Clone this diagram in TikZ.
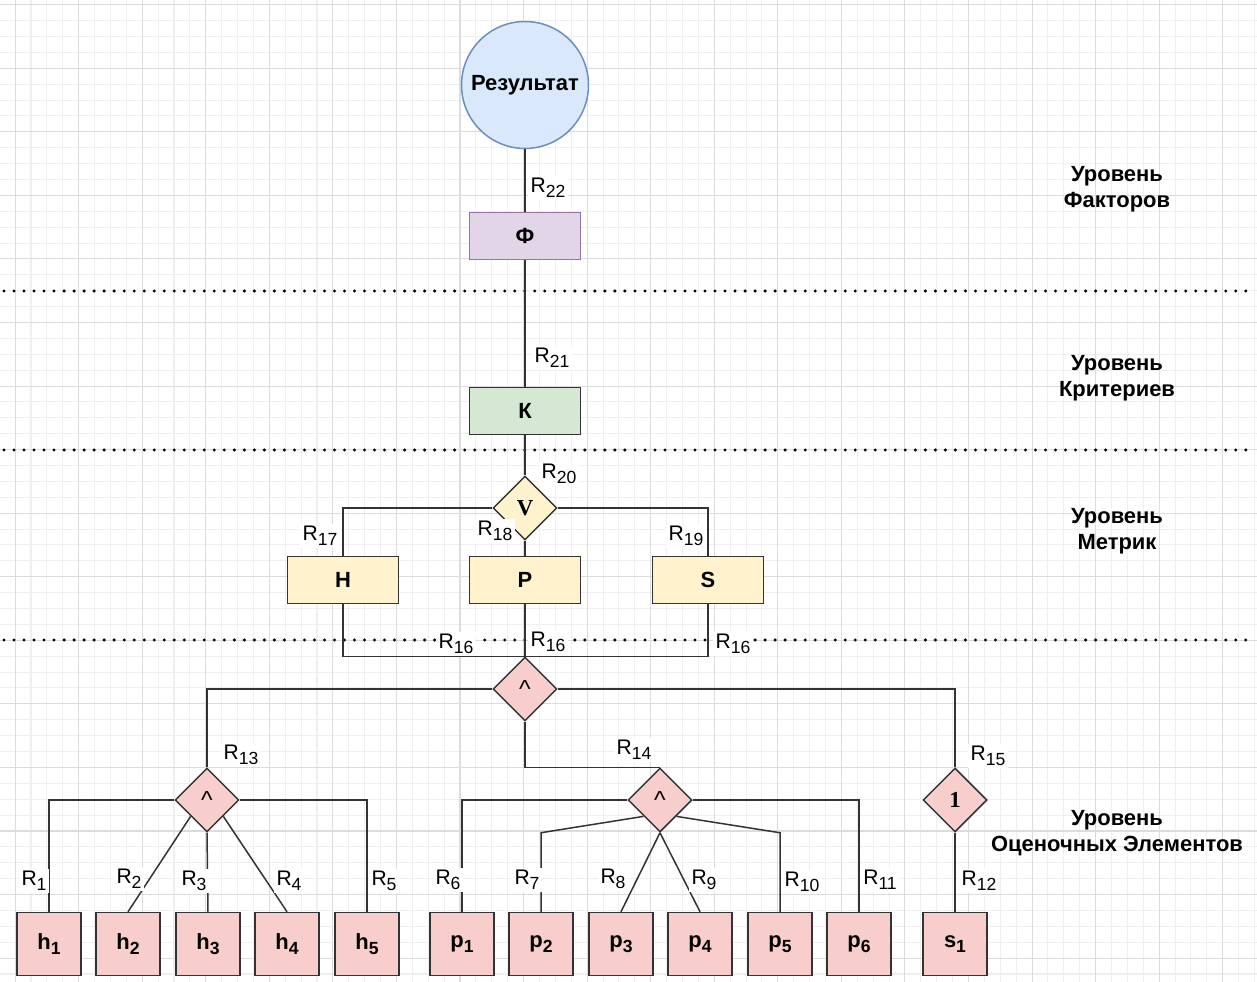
\documentclass[tikz,border=0pt]{standalone}
\usepackage{fontspec}
\setmainfont{Liberation Sans}
\newfontfamily\timesb{Liberation Serif}
\usetikzlibrary{shapes.geometric}

\definecolor{gridlo}{HTML}{EFEFEF}
\definecolor{gridhi}{HTML}{DCDCDC}
\definecolor{edgec}{HTML}{333333}
\definecolor{resfill}{HTML}{DAE8FC}
\definecolor{resline}{HTML}{6C8EBF}
\definecolor{phifill}{HTML}{E1D5E7}
\definecolor{philine}{HTML}{9673A6}
\definecolor{critfill}{HTML}{D5E8D4}
\definecolor{metfill}{HTML}{FFF2CC}
\definecolor{elemfill}{HTML}{F8CECC}

\newcommand{\idx}[1]{\raisebox{-0.45ex}{\fontsize{10}{12}\selectfont#1}}

\begin{document}
\begin{tikzpicture}[x=0.02cm,y=-0.02cm,
		block/.style={draw=edgec,line width=0.85pt,minimum width=2.22cm,minimum height=0.94cm,inner sep=0pt,font=\fontsize{12.5}{14}\selectfont\bfseries},
		elem/.style={block,fill=elemfill,minimum width=1.28cm,minimum height=1.26cm},
		gate/.style={diamond,aspect=1,draw=edgec,line width=0.85pt,minimum size=1.28cm,inner sep=0pt,font=\fontsize{14}{16}\selectfont},
		rlab/.style={fill=white,inner sep=1.5pt,font=\fontsize{12}{14}\selectfont},
		lvltext/.style={align=center,font=\fontsize{12.5}{15}\selectfont\bfseries},
		conn/.style={draw=edgec,line width=0.85pt},
		dotsep/.style={line width=1.9pt,dash pattern=on 0pt off 5.7pt,line cap=round}]
		\useasboundingbox (0,0) rectangle (1257,982);
		\fill[white] (0,0) rectangle (1257,982);
		\foreach \k in {0,...,79}
			\draw[gridlo,line width=0.6pt] ({-0.8+15.89*\k},0) -- ({-0.8+15.89*\k},982);
		\foreach \k in {0,...,61}
			\draw[gridlo,line width=0.6pt] (0,{4.7+15.89*\k}) -- (1257,{4.7+15.89*\k});
		\foreach \k in {1,5,...,77}
			\draw[gridhi,line width=0.6pt] ({-0.8+15.89*\k},0) -- ({-0.8+15.89*\k},982);
		\foreach \k in {0,4,...,60}
			\draw[gridhi,line width=0.6pt] (0,{4.7+15.89*\k}) -- (1257,{4.7+15.89*\k});
		\foreach \y in {291,450,640}
			\draw[dotsep] (4,\y) -- (1252,\y);

		\node[circle,draw=resline,fill=resfill,line width=0.85pt,minimum size=2.54cm,inner sep=0pt,
			font=\fontsize{12.5}{14}\selectfont\bfseries] (res) at (525,85) {Результат};
		\node[block,fill=phifill,draw=philine] (phi) at (525,236) {Ф};
		\node[block,fill=critfill] (crit) at (525,411) {К};
		\node[gate,fill=metfill] (vor) at (525,508) {\fontsize{13}{15}\selectfont\timesb\bfseries V};
		\node[block,fill=metfill] (mh) at (343,580) {H};
		\node[block,fill=metfill] (mp) at (525,580) {P};
		\node[block,fill=metfill] (ms) at (708,580) {S};
		\node[gate,fill=elemfill] (gand) at (525,689) {\textasciicircum};
		\node[gate,fill=elemfill] (gh) at (207,800) {\textasciicircum};
		\node[gate,fill=elemfill] (gp) at (660,800) {\textasciicircum};
		\node[gate,fill=elemfill] (gs) at (955,800) {\fontsize{13}{15}\selectfont\timesb\bfseries 1};
		\foreach \x [count=\i] in {49,128,208,287,367}
			\node[elem] (h\i) at (\x,944) {h\idx{\i}};
		\foreach \x [count=\i] in {462,541,621,700,780,859}
			\node[elem] (p\i) at (\x,944) {p\idx{\i}};
		\node[elem] (s1) at (955,944) {s\idx{1}};

		\draw[conn] (res) -- (phi);
		\draw[conn] (phi) -- (crit);
		\draw[conn] (crit) -- (vor);
		\draw[conn] (vor.west) -| (mh.north);
		\draw[conn] (vor.south) -- (mp.north);
		\draw[conn] (vor.east) -| (ms.north);
		\draw[conn] (mh.south) |- (gand.north);
		\draw[conn] (mp.south) -- (gand.north);
		\draw[conn] (ms.south) |- (gand.north);
		\draw[conn] (gand.west) -| (gh.north);
		\draw[conn] (gand.south) |- (gp.north);
		\draw[conn] (gand.east) -| (gs.north);
		\draw[conn] (gh.west) -| (h1.north);
		\draw[conn] (gh.south west) -- (h2.north);
		\draw[conn] (gh.south) -- (h3.north);
		\draw[conn] (gh.south east) -- (h4.north);
		\draw[conn] (gh.east) -| (h5.north);
		\draw[conn] (gp.west) -| (p1.north);
		\draw[conn] (gp.south west) -- (gp.south -| p2.north) -- (p2.north);
		\draw[conn] (gp.south) -- (p3.north);
		\draw[conn] (gp.south) -- (p4.north);
		\draw[conn] (gp.south east) -- (gp.south -| p5.north) -- (p5.north);
		\draw[conn] (gp.east) -| (p6.north);
		\draw[conn] (gs) -- (s1);

		\foreach \x/\y/\n in {548/188/22,552/358/21,559/474/20,320/536/17,495/531/18,686/536/19,
			241/755/13,634/750/14,988/756/15,34/881/1,129/879/2,194/881/3,289/881/4,384/881/5,
			448/880/6,527/880/7,613/879/8,704/880/9,802/882/10,880/880/11,979/881/12}
			\node[rlab] (r\n) at (\x,\y) {R\idx{\n}};
		\node[rlab] (r16a) at (456,644) {R\idx{16}};
		\node[rlab] (r16b) at (548,642) {R\idx{16}};
		\node[rlab] (r16c) at (733,644) {R\idx{16}};

		\node[lvltext] (lfac) at (1117,189) {Уровень\\Факторов};
		\node[lvltext] (lcrit) at (1117,378) {Уровень\\Критериев};
		\node[lvltext] (lmet) at (1117,531) {Уровень\\Метрик};
		\node[lvltext] (lelem) at (1117,833) {Уровень\\Оценочных Элементов};
	\end{tikzpicture}
\end{document}
